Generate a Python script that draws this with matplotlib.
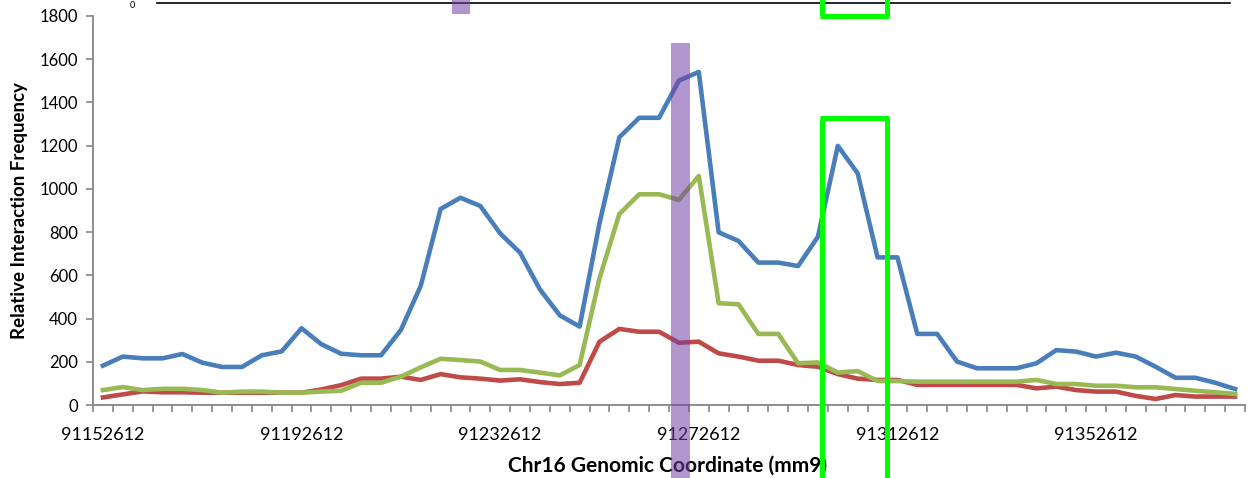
import matplotlib
matplotlib.use("Agg")
import matplotlib.pyplot as plt
from matplotlib.patches import Rectangle
from matplotlib.lines import Line2D

plt.rcParams['font.family'] = ['Lato', 'DejaVu Sans']

# ---- data ----
start_coord = 91152612
step = 4000
label_every = 10

blue = [182, 224, 216, 216, 236, 196, 176, 176, 230, 248,
        355, 281, 237, 230, 230, 347, 551, 907, 959, 921,
        794, 705, 535, 415, 363, 841, 1239, 1329, 1329, 1501,
        1541, 799, 759, 659, 659, 643, 779, 1199, 1072, 683,
        683, 329, 329, 201, 170, 170, 170, 193, 254, 247,
        224, 242, 224, 177, 126, 126, 103, 74]
red = [35, 49, 63, 59, 59, 57, 57, 57, 57, 57,
       57, 72, 92, 122, 122, 131, 116, 143, 128, 122,
       113, 119, 106, 97, 103, 293, 352, 339, 339, 288,
       293, 239, 224, 205, 205, 185, 177, 143, 122, 116,
       116, 93, 93, 93, 93, 93, 93, 77, 85, 69,
       62, 62, 42, 28, 46, 39, 39, 39]
green = [69, 83, 69, 75, 75, 69, 57, 62, 62, 57,
         57, 62, 66, 103, 103, 131, 174, 214, 208, 201,
         162, 162, 150, 137, 185, 586, 884, 975, 975, 949,
         1060, 471, 466, 329, 329, 193, 197, 150, 157, 111,
         111, 108, 108, 108, 108, 108, 108, 116, 97, 97,
         89, 89, 82, 82, 74, 66, 59, 51]

n = len(blue)
x = list(range(n))
tick_pos = list(range(0, n, label_every))
tick_labels = [str(start_coord + i * step) for i in tick_pos]

W, H = 1253, 478
fig = plt.figure(figsize=(W / 100, H / 100), dpi=100)
ax = fig.add_axes([93 / W, 1 - 405 / H, (1245 - 93) / W, (405 - 16) / H])

lw = 3.3
ax.plot(x, blue, color='#4A7EBB', lw=lw, solid_joinstyle='round', zorder=3)
ax.plot(x, red, color='#BE4B48', lw=lw, solid_joinstyle='round', zorder=3)
ax.plot(x, green, color='#98B954', lw=lw, solid_joinstyle='round', zorder=4)

ax.set_xlim(-0.5, n - 0.5)
ax.set_ylim(0, 1800)
ax.set_yticks(range(0, 1801, 200))
ax.set_xticks(tick_pos)
ax.set_xticklabels(tick_labels)
ax.set_xticks([i - 0.5 for i in range(n + 1)], minor=True)

gray = '#868686'
for s in ['top', 'right']:
    ax.spines[s].set_visible(False)
for s in ['left', 'bottom']:
    ax.spines[s].set_color(gray)
    ax.spines[s].set_linewidth(1.3)

ax.tick_params(axis='x', which='major', length=0, pad=16, labelsize=13, colors='black')
ax.tick_params(axis='x', which='minor', length=5, width=1.2, color=gray, direction='out')
ax.tick_params(axis='y', which='major', length=5, width=1.2, color=gray, pad=6, labelsize=12, labelcolor='black')

# axis titles
fig.text(20 / W, 1 - 211 / H, 'Relative Interaction Frequency', rotation=90,
         ha='center', va='center', fontsize=13.5, fontweight='bold')
fig.text(668 / W, 1 - 466 / H, 'Chr16 Genomic Coordinate (mm9)',
         ha='center', va='center', fontsize=15, fontweight='bold')

# purple highlight bar (overlay)
fig.patches.append(Rectangle((671 / W, 0), (690 - 671) / W, 1 - 43 / H,
                             transform=fig.transFigure, facecolor=(0.45, 0.25, 0.65),
                             alpha=0.55, edgecolor='none', zorder=10))
# green box
gcol = '#00FF00'
glw = 3.6
for (x0, y0, x1, y1) in [(822.5, 117.5, 822.5, 480), (886.5, 117.5, 886.5, 480),
                         (820, 117.5, 889, 117.5)]:
    fig.add_artist(Line2D([x0 / W, x1 / W], [1 - y0 / H, 1 - y1 / H],
                          transform=fig.transFigure, color=gcol, lw=glw, zorder=11,
                          solid_capstyle='butt'))

# cropped track strip at the very top
fig.add_artist(Line2D([157 / W, 1230 / W], [1 - 3 / H, 1 - 3 / H], transform=fig.transFigure,
                      color='black', lw=1.2, zorder=5))
fig.patches.append(Rectangle((452 / W, 1 - 14 / H), 18 / W, 14 / H, transform=fig.transFigure,
                             facecolor=(0.45, 0.25, 0.65), alpha=0.55, edgecolor='none', zorder=10))
for (x0, y0, x1, y1) in [(822.5, -2, 822.5, 15.5), (886.5, -2, 886.5, 15.5),
                         (820, 15.5, 889, 15.5)]:
    fig.add_artist(Line2D([x0 / W, x1 / W], [1 - y0 / H, 1 - y1 / H],
                          transform=fig.transFigure, color=gcol, lw=glw, zorder=11,
                          solid_capstyle='butt'))
fig.text(132 / W, 1 - 5 / H, '0', ha='center', va='center', fontsize=6.5)

fig.savefig('out.png', dpi=100)
